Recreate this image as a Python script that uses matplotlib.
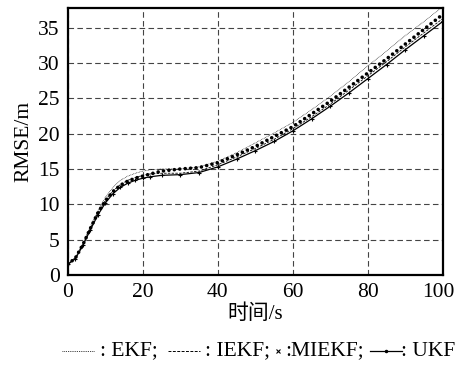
import matplotlib
matplotlib.use("Agg")
import matplotlib.pyplot as plt
import matplotlib.transforms as mtransforms
from matplotlib.lines import Line2D

plt.rcParams['font.family'] = ['Liberation Serif', 'Noto Sans CJK SC']

# time (s) and RMSE (m)
t = [0, 2, 4, 6, 8, 10, 12, 14, 16, 18, 20, 22, 25, 30, 35, 40, 45, 50,
     55, 60, 65, 70, 75, 80, 85, 90, 95, 100]
ukf = [1.5, 2.3, 4.2, 6.4, 8.5, 10.2, 11.5, 12.4, 13.0, 13.4, 13.7, 13.9,
       14.1, 14.2, 14.5, 15.3, 16.4, 17.6, 18.9, 20.4, 22.1, 23.9, 25.8,
       27.8, 29.8, 31.9, 33.9, 35.9]
miekf = [1.5, 2.4, 4.3, 6.6, 8.8, 10.5, 11.8, 12.7, 13.3, 13.7, 14.0, 14.3,
         14.7, 15.0, 15.2, 15.9, 17.0, 18.2, 19.6, 21.0, 22.8, 24.6, 26.6,
         28.6, 30.6, 32.7, 34.8, 36.9]
iekf = [1.5, 2.4, 4.3, 6.6, 8.8, 10.6, 11.9, 12.8, 13.4, 13.8, 14.1, 14.3,
        14.4, 14.4, 14.7, 15.6, 16.7, 17.9, 19.2, 20.7, 22.4, 24.2, 26.2,
        28.2, 30.2, 32.3, 34.3, 36.3]
ekf = [1.5, 2.5, 4.5, 6.9, 9.1, 11.0, 12.4, 13.4, 14.0, 14.4, 14.7, 14.9,
       15.0, 15.0, 15.3, 16.1, 17.3, 18.7, 20.1, 21.6, 23.4, 25.3, 27.4,
       29.6, 31.7, 33.9, 35.9, 38.0]

xticks = [0, 20, 40, 60, 80, 100]
yticks = [0, 5, 10, 15, 20, 25, 30, 35]

fig = plt.figure(figsize=(4.56, 3.66), dpi=100)
ax = fig.add_axes([0.149, 0.249, 0.822, 0.729])

ax.plot(t, ekf, color='black', linewidth=0.5, linestyle=(0, (1, 1.2)))
ax.plot(t, iekf, color='black', linewidth=0.6, linestyle=(0, (3, 1.5)))
ax.plot(t, miekf, color='black', linewidth=2.6, linestyle=(0, (0.01, 1.5)),
        dash_capstyle='round')
ax.plot(t, ukf, color='black', linewidth=0.9, marker='+', markersize=3,
        markeredgewidth=0.8)

ax.set_xlim(0, 100)
ax.set_ylim(0, 37.8)
ax.set_xticks(xticks)
ax.set_yticks(yticks)
ax.tick_params(labelsize=15.5, length=0, pad=6)
ax.grid(True, color='#444444', linestyle=(0, (5, 3)), linewidth=0.8)
for s in ax.spines.values():
    s.set_linewidth(1.6)

# nudge the "100" label so it stays inside the figure
fig.canvas.draw()
last = ax.get_xticklabels()[-1]
last.set_transform(last.get_transform() +
                   mtransforms.ScaledTranslation(-4 / 100, 0, fig.dpi_scale_trans))

ax.set_xlabel('时间/s', fontsize=15)
ax.xaxis.set_label_coords(0.5, -0.112)
ax.set_ylabel('RMSE/m', fontsize=15.5, labelpad=3)

# legend row at the bottom, laid out like the original caption
W, H = 456, 366
ly = 1 - 351 / H
tf = fig.transFigure
fig.add_artist(Line2D([62 / W, 95 / W], [ly, ly], transform=tf,
                      color='black', linewidth=0.6, linestyle=(0, (1, 1.2))))
fig.add_artist(Line2D([168 / W, 200 / W], [ly, ly], transform=tf,
                      color='black', linewidth=0.7, linestyle=(0, (3, 1.5))))
fig.add_artist(Line2D([278 / W], [ly], transform=tf, color='black',
                      linestyle='none', marker='x', markersize=3,
                      markeredgewidth=0.8))
fig.add_artist(Line2D([370 / W, 386 / W, 402 / W], [ly, ly, ly], transform=tf,
                      color='black', linewidth=0.9, marker='.', markersize=3,
                      markevery=[1]))
fig.text(100 / W, ly, ': EKF;', fontsize=15.5, ha='left', va='center')
fig.text(205 / W, ly, ': IEKF;', fontsize=15.5, ha='left', va='center')
fig.text(285 / W, ly, ':MIEKF;', fontsize=15.5, ha='left', va='center')
fig.text(455 / W, ly, ': UKF', fontsize=15.5, ha='right', va='center')

fig.savefig('out.png', dpi=100)
